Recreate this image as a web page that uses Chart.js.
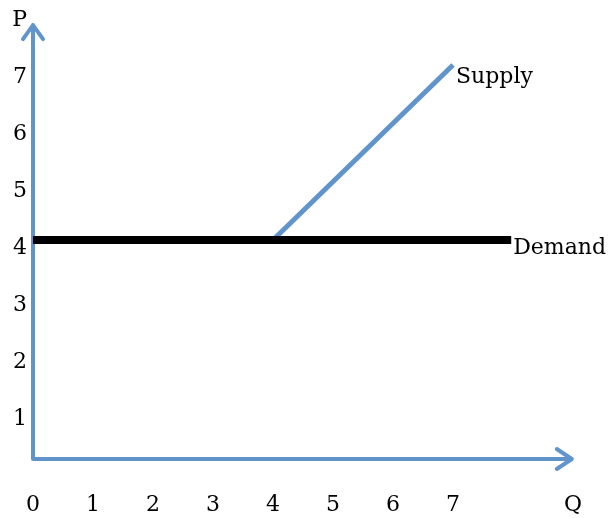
<!DOCTYPE html>
<html>
<head>
<meta charset="utf-8">
<script src="https://cdn.jsdelivr.net/npm/chart.js@4/dist/chart.umd.min.js"></script>
<style>
  html, body { margin: 0; padding: 0; background: #fff; }
  #wrap { width: 611px; height: 518px; }
</style>
</head>
<body>
<div id="wrap"><canvas id="c" width="611" height="518"></canvas></div>
<script>
// ---- data ----
const xTickValues = [0, 1, 2, 3, 4, 5, 6, 7, 9];
const xTickLabels = ['0', '1', '2', '3', '4', '5', '6', '7', 'Q'];
const yTickValues = [1, 2, 3, 4, 5, 6, 7, 8];
const yTickLabels = ['1', '2', '3', '4', '5', '6', '7', 'P'];

const demandQ = [0, 7.97];
const demandP = [4, 4];
const supplyQ = [4, 7];
const supplyP = [4, 7.07];

const seriesNames = ['Demand', 'Supply'];

// axis extents (in data units)
const xAxisEnd = 8.98;
const yAxisEnd = 7.77;

const blue = 'rgb(98,148,204)';
const ink = '#000';
const serif = '"DejaVu Serif", "Liberation Serif", serif';

function pts(xs, ys) { return xs.map((x, i) => ({ x: x, y: ys[i] })); }

const arrowPlugin = {
  id: 'arrows',
  beforeDatasetsDraw(chart) {
    const ctx = chart.ctx;
    const xs = chart.scales.x, ys = chart.scales.y;
    const x0 = xs.getPixelForValue(0);
    const y0 = chart.chartArea.bottom;
    const xTip = xs.getPixelForValue(xAxisEnd);
    const yTip = ys.getPixelForValue(yAxisEnd);
    ctx.save();
    ctx.strokeStyle = blue;
    ctx.lineWidth = 4;
    ctx.lineCap = 'round';
    ctx.lineJoin = 'round';
    ctx.beginPath();
    ctx.moveTo(x0, y0); ctx.lineTo(x0, yTip);
    ctx.moveTo(x0, y0); ctx.lineTo(xTip, y0);
    // arrowheads
    ctx.moveTo(x0 - 10, yTip + 14); ctx.lineTo(x0, yTip); ctx.lineTo(x0 + 10, yTip + 14);
    ctx.moveTo(xTip - 15, y0 - 10); ctx.lineTo(xTip, y0); ctx.lineTo(xTip - 15, y0 + 10);
    ctx.stroke();
    ctx.restore();
  },
  afterDatasetsDraw(chart) {
    const ctx = chart.ctx;
    ctx.save();
    ctx.font = '22px ' + serif;
    ctx.fillStyle = ink;
    ctx.textBaseline = 'middle';
    ctx.textAlign = 'left';
    chart.data.datasets.forEach((ds, i) => {
      const meta = chart.getDatasetMeta(i);
      const last = meta.data[meta.data.length - 1];
      const off = ds.labelOffset;
      ctx.fillText(ds.label, last.x + off[0], last.y + off[1]);
    });
    ctx.restore();
  }
};

new Chart(document.getElementById('c'), {
  type: 'scatter',
  data: {
    datasets: [
      {
        label: seriesNames[0],
        data: pts(demandQ, demandP),
        showLine: true,
        borderColor: '#000',
        borderWidth: 8,
        borderCapStyle: 'butt',
        pointRadius: 0,
        labelOffset: [2, 8]
      },
      {
        label: seriesNames[1],
        data: pts(supplyQ, supplyP),
        showLine: true,
        borderColor: blue,
        borderWidth: 5,
        borderCapStyle: 'butt',
        pointRadius: 0,
        labelOffset: [3, 12]
      }
    ]
  },
  options: {
    responsive: false,
    animation: false,
    layout: { padding: { top: 0, right: 8, bottom: 0, left: 0 } },
    plugins: { legend: { display: false }, tooltip: { enabled: false } },
    scales: {
      x: {
        type: 'linear',
        min: 0,
        max: 9.5,
        border: { display: false },
        grid: { display: false, drawTicks: false, tickLength: 0 },
        afterBuildTicks: (s) => { s.ticks = xTickValues.map(v => ({ value: v })); },
        afterFit: (s) => { s.height = 59; s.paddingLeft = 0; s.paddingRight = 0; s.paddingTop = 0; s.paddingBottom = 0; },
        ticks: {
          autoSkip: false,
          maxRotation: 0,
          padding: 33,
          color: ink,
          font: { family: serif, size: 22 },
          callback: (v) => { const i = xTickValues.indexOf(v); return i >= 0 ? xTickLabels[i] : ''; }
        }
      },
      y: {
        type: 'linear',
        min: 0.158,
        max: 8.21,
        border: { display: false },
        grid: { display: false, drawTicks: false, tickLength: 0 },
        afterBuildTicks: (s) => { s.ticks = yTickValues.map(v => ({ value: v })); },
        afterFit: (s) => { s.width = 33; s.paddingLeft = 0; s.paddingRight = 0; s.paddingTop = 0; s.paddingBottom = 0; },
        ticks: {
          autoSkip: false,
          padding: 6,
          labelOffset: 8,
          color: ink,
          font: { family: serif, size: 22 },
          callback: (v) => { const i = yTickValues.indexOf(v); return i >= 0 ? yTickLabels[i] : ''; }
        }
      }
    }
  },
  plugins: [arrowPlugin]
});
</script>
</body>
</html>
